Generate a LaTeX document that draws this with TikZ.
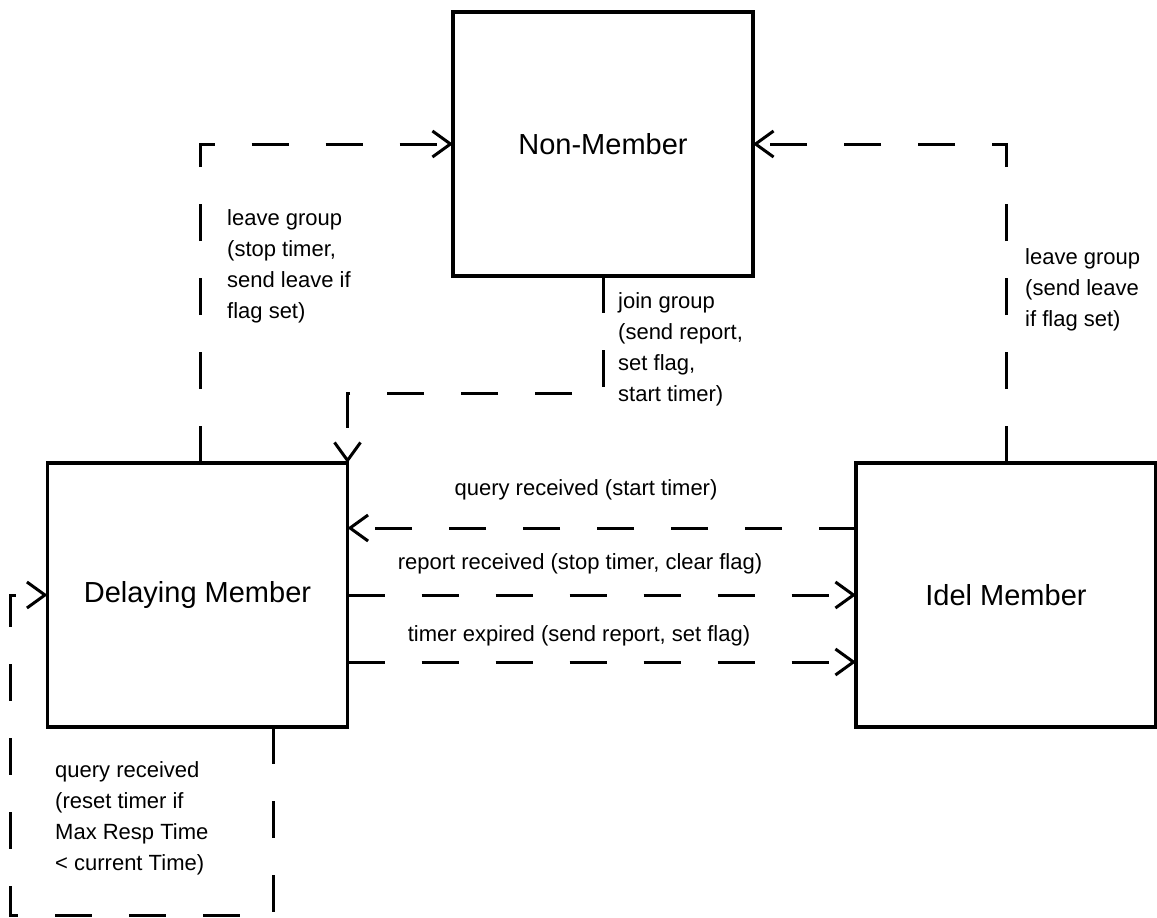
\documentclass[tikz,border=0pt]{standalone}
\usepackage{fontspec}
\setmainfont{Liberation Sans}
\usetikzlibrary{arrows.meta}
\begin{document}
\begin{tikzpicture}[x=1pt,y=-1pt,
  state/.style={draw,line width=3.5pt,minimum width=300pt,minimum height=264pt,
    outer sep=0pt,inner sep=0pt,font=\fontsize{29}{34}\selectfont},
  conn/.style={line width=3pt,dash pattern=on 37pt off 37pt,
    -{Straight Barb[length=18pt,width=26pt,line width=3pt]}},
  lbl/.style={align=left,anchor=north west,inner sep=0pt,font=\fontsize{22}{31}\selectfont},
  clbl/.style={inner sep=0pt,font=\fontsize{22}{31}\selectfont}]
\useasboundingbox (0,0) rectangle (1157,918);

% states
\node[state] (nm) at (603,144) {Non-Member};
\node[state] (dm) at (197.5,595) {Delaying Member};
\node[state] (im) at (1006,595) {Idel Member};

% transitions to and from the non-member state
\draw[conn] ([xshift=153pt]dm.north west) |- (nm.west);
\draw[conn] (nm.south) -- ++(0,117) -| (dm.north east);
\draw[conn] (im.north) |- (nm.east);

% transitions between the member states
\draw[conn] ([yshift=67pt]im.west) -- ([yshift=67pt]dm.east);
\draw[conn] (dm.east) -- (im.west);
\draw[conn] ([yshift=-67pt]dm.east) -- ([yshift=-67pt]im.west);

% self loop of the delaying member
\coordinate (lp) at (10,915);
\draw[conn] ([xshift=226pt]dm.south west) |- (lp) |- (dm.west);

% labels
\node[lbl] (l1) at (227,209) {leave group\\(stop timer,\\send leave if\\flag set)};
\node[lbl] (l2) at (618,292) {join group\\(send report,\\set flag,\\start timer)};
\node[lbl] (l3) at (1025,248) {leave group\\(send leave\\if flag set)};
\node[lbl] (l4) at (55,761) {query received\\(reset timer if\\Max Resp Time\\< current Time)};
\node[clbl] (l5) at (586,490) {query received (start timer)};
\node[clbl] (l6) at (580,564) {report received (stop timer, clear flag)};
\node[clbl] (l7) at (579,636) {timer expired (send report, set flag)};
\end{tikzpicture}
\end{document}
